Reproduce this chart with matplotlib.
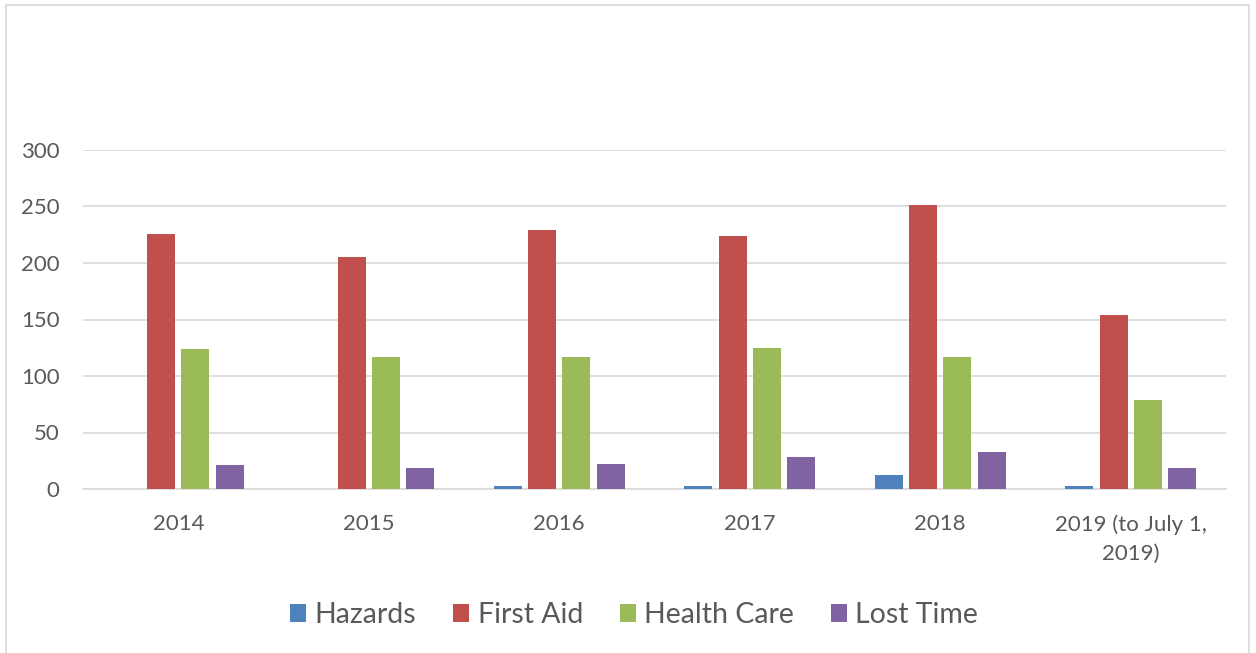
import matplotlib.pyplot as plt
import numpy as np
from matplotlib.patches import Rectangle

plt.rcParams['font.family'] = ['Lato', 'DejaVu Sans']

# Data
years = ['2014', '2015', '2016', '2017', '2018', '2019 (to July 1,\n2019)']
hazards = [0, 0, 3, 3, 12, 3]
first_aid = [226, 205, 229, 224, 251, 154]
health_care = [124, 117, 117, 125, 117, 79]
lost_time = [21, 19, 22, 28, 33, 19]

series = [('Hazards', hazards, '#4f81bd'),
          ('First Aid', first_aid, '#c0504d'),
          ('Health Care', health_care, '#9bbb59'),
          ('Lost Time', lost_time, '#8064a2')]

fig = plt.figure(figsize=(12.56, 6.53), dpi=100)
fig.patch.set_facecolor('white')

# Outer chart border
fig.add_artist(Rectangle((6 / 1256, -0.01), 1243 / 1256, 1 - 5 / 653 + 0.01,
                         transform=fig.transFigure, fill=False,
                         edgecolor='#d9d9d9', linewidth=1.2))

ax = fig.add_axes([83 / 1256, 1 - 489 / 653, (1226 - 83) / 1256, (489 - 150) / 653])

x = np.arange(len(years))
step = 0.181
width = 0.147
for i, (name, vals, color) in enumerate(series):
    ax.bar(x + (i - 1.5) * step, vals, width, color=color, label=name, zorder=3)

ax.set_xlim(-0.5, len(years) - 0.5)
ax.set_ylim(0, 300)
ax.set_yticks(range(0, 301, 50))
ax.yaxis.grid(True, color='#d9d9d9', linewidth=1.2, zorder=0)
ax.set_xticks(x)
ax.set_xticklabels(years, linespacing=1.55)

for s in ['top', 'right', 'left']:
    ax.spines[s].set_visible(False)
ax.spines['bottom'].set_color('#d9d9d9')
ax.spines['bottom'].set_linewidth(1.2)
ax.tick_params(axis='both', length=0, labelsize=16, colors='#595959')
ax.tick_params(axis='y', pad=17)
ax.tick_params(axis='x', pad=18)

leg = fig.legend(loc='center', bbox_to_anchor=(0.505, 1 - 615 / 653), ncol=4,
                 frameon=False, fontsize=20.5, handlelength=0.55, handleheight=0.55,
                 handletextpad=0.3, columnspacing=1.3)
for t in leg.get_texts():
    t.set_color('#595959')

fig.savefig('out.png', dpi=100)
